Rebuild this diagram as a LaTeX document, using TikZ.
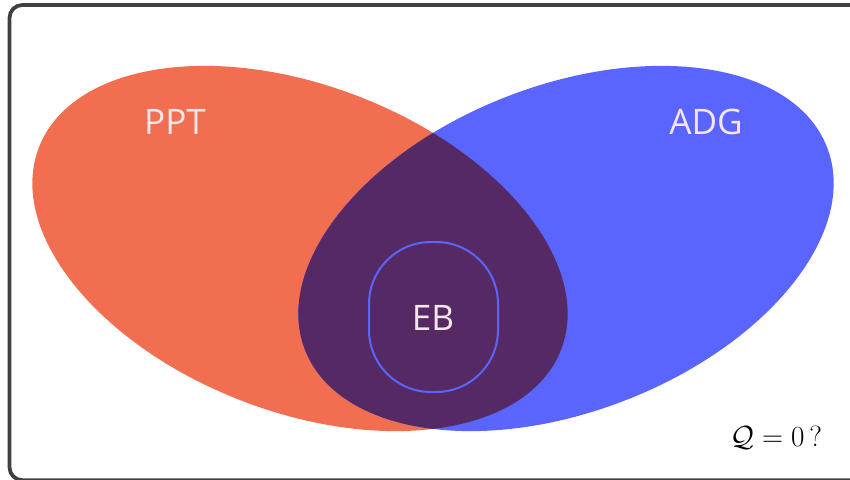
\documentclass[tikz,border=0pt]{standalone}
\usepackage{fontspec}
\setsansfont{Open Sans}
\usepackage{amsmath,amssymb}
\usetikzlibrary{positioning}
\definecolor{pptred}{HTML}{F26E50}
\definecolor{adgblue}{HTML}{5A64FF}
\definecolor{ebpurple}{HTML}{552A64}
\definecolor{labelwhite}{HTML}{F4E6EA}
\tikzset{
  setlabel/.style={text=labelwhite,font=\sffamily\fontsize{30}{36}\selectfont,inner sep=0pt},
  leftset/.style={rotate around={-21.2:(300,230.5)}},
  rightset/.style={rotate around={21.2:(566,230.5)}}
}

\begin{document}
\begin{tikzpicture}[x=0.03cm,y=0.03cm]
  \useasboundingbox (0,0) rectangle (850,479);
  \clip (0,0) rectangle (850,479);
  \draw[line width=3.2pt,draw=black!75,rounded corners=11pt] (9.5,474) rectangle (900,-1.2);
  \fill[pptred,leftset] (300,230.5) ellipse[x radius=280,y radius=163];
  \fill[adgblue,rightset] (566,230.5) ellipse[x radius=280,y radius=163];
  \begin{scope}
    \clip[leftset] (300,230.5) ellipse[x radius=280,y radius=163];
    \fill[ebpurple,rightset] (566,230.5) ellipse[x radius=280,y radius=163];
  \end{scope}
  \draw[adgblue,line width=1.7pt,rounded corners=62*0.03cm] (369,237) rectangle (498,87);
  \node[setlabel] (ppt) at (175,357) {PPT};
  \node[setlabel] (adg) at (706,357) {ADG};
  \node[setlabel] (eb) at (433,161) {EB};
  \node[font=\fontsize{25}{30}\selectfont,inner sep=0pt] (q) at (776,41) {$\mathcal{Q}=0\,?$};
\end{tikzpicture}
\end{document}
